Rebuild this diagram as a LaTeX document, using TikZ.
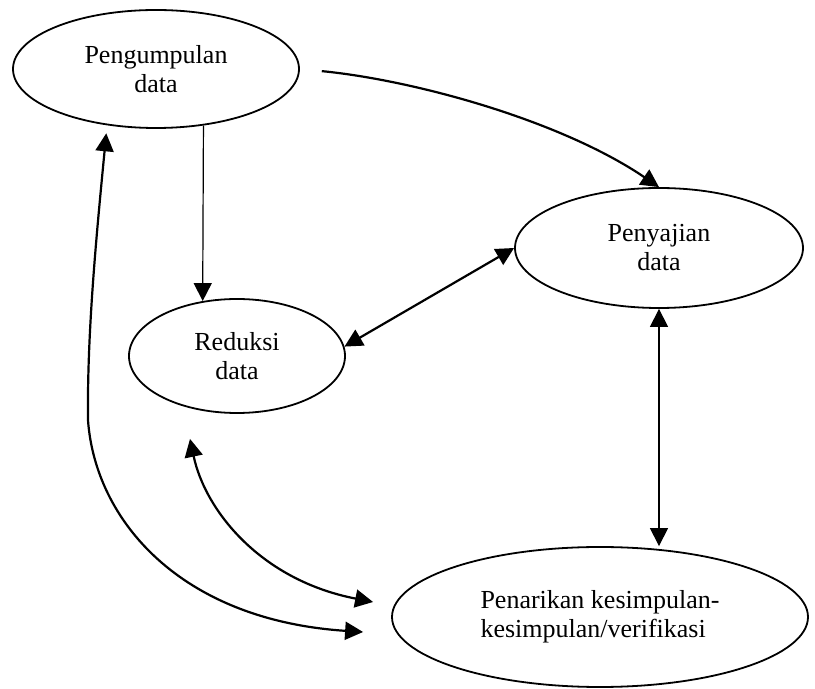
\documentclass[tikz,border=0pt]{standalone}
\usepackage{fontspec}
\setmainfont{Liberation Serif}
\usetikzlibrary{arrows.meta, shapes.geometric, calc}
\tikzset{
	stage/.style={ellipse, draw, line width=0.9pt, inner sep=0pt, align=center, font=\fontsize{13}{14.5}\selectfont},
	arrow/.style={-{Triangle[length=9pt, width=9pt]}, line width=1.1pt},
	thinarrow/.style={-{Triangle[length=9pt, width=9pt]}, line width=0.6pt},
	twoway/.style={{Triangle[length=9pt, width=9pt]}-{Triangle[length=9pt, width=9pt]}, line width=1.1pt},
	thintwoway/.style={{Triangle[length=9pt, width=9pt]}-{Triangle[length=9pt, width=9pt]}, line width=0.6pt},
}

\begin{document}
\begin{tikzpicture}[x=0.5pt, y=-0.5pt]
	\useasboundingbox (0,0) rectangle (815,689);
	\node[stage, minimum width=143pt, minimum height=59pt] (peng) at (156,69) {Pengumpulan\\data};
	\node[stage, minimum width=144pt, minimum height=60pt] (saji) at (659,248) {Penyajian\\data};
	\node[stage, minimum width=108pt, minimum height=57pt] (red) at (237,356) {Reduksi\\data};
	\node[stage, minimum width=208pt, minimum height=70pt, align=left] (tarik) at (600,617) {Penarikan kesimpulan-\\kesimpulan/verifikasi};
	% loose ends of the lower arrows
	\coordinate (redend) at ([xshift=-23.5pt, yshift=-12.5pt]red.south);
	\coordinate (highend) at ([xshift=-9pt, yshift=7.5pt]tarik.west);
	\coordinate (lowend) at ([xshift=-14pt, yshift=-7.5pt]tarik.west);
	\draw[thinarrow] (peng.-50) -- (red.122);
	\draw[arrow, shorten <=11pt] (peng.east) .. controls (413,80) and (560,120) .. (saji.north);
	\draw[twoway] (red.5) -- (saji.west);
	\draw[thintwoway] (saji.south) -- (saji.south |- tarik.north);
	\draw[twoway] (redend) .. controls (205,510) and (260,580) .. (highend);
	\draw[twoway, shorten <=4pt] (peng.229) .. controls (97,230) and (87,330) .. (88,420) .. controls (95,520) and (180,620) .. (lowend);
\end{tikzpicture}
\end{document}
